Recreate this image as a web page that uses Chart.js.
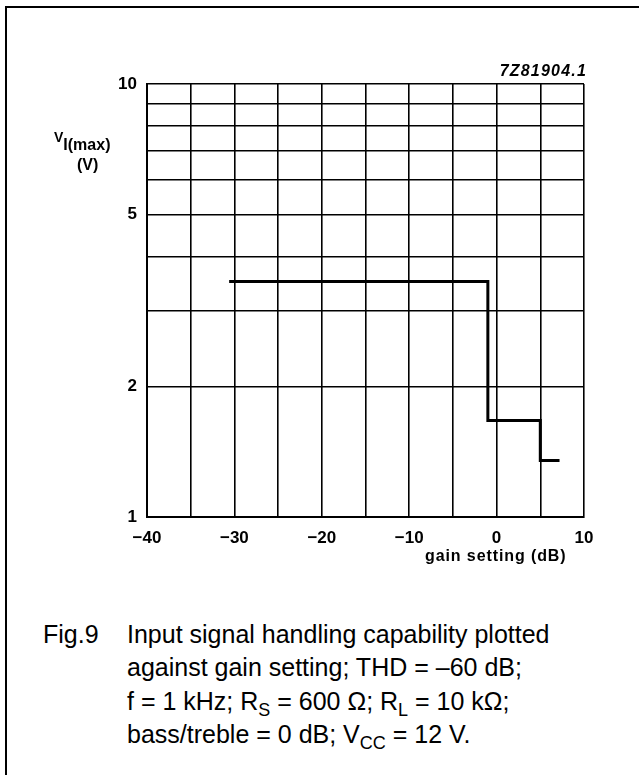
<!DOCTYPE html>
<html>
<head>
<meta charset="utf-8">
<script src="https://cdn.jsdelivr.net/npm/chart.js@4"></script>
<style>
  body { margin: 0; background: #fff; }
  #page { position: relative; width: 639px; height: 775px; overflow: hidden; font-family: "Liberation Sans", Arial, sans-serif; color: #000; }
  #frame { position: absolute; left: 5px; top: 6px; width: 800px; height: 900px; border-left: 2px solid #000; border-top: 2px solid #000; }
  #grafico { position: absolute; left: 0; top: 0; }
  .lbl { position: absolute; font-weight: bold; white-space: nowrap; line-height: 1; }
  #code { right: 52px; top: 63px; font-size: 16px; font-style: italic; letter-spacing: 1.2px; }
  #xtitle { left: 425px; top: 548px; font-size: 16px; letter-spacing: 0.9px; }
  #ylab1 { left: 54px; top: 129px; font-size: 14px; }
  #ylab1 span { font-size: 16px; position: relative; top: 8px; }
  #ylab2 { left: 77px; top: 157px; font-size: 16px; }
  #caption { position: absolute; left: 0; top: 618px; font-size: 25px; line-height: 33.3px; }
  #fig { position: absolute; left: 43px; top: 0; }
  #texto { position: absolute; left: 127px; top: 0; white-space: nowrap; }
  sub { font-size: 18px; line-height: 0; vertical-align: baseline; position: relative; top: 6px; }
</style>
</head>
<body>
<div id="page">
  <div id="frame"></div>
  <canvas id="grafico" width="639" height="600"></canvas>
  <div class="lbl" id="code">7Z81904.1</div>
  <div class="lbl" id="ylab1">V<span>I(max)</span></div>
  <div class="lbl" id="ylab2">(V)</div>
  <div class="lbl" id="xtitle">gain setting (dB)</div>
  <div id="caption">
    <div id="fig">Fig.9</div>
    <div id="texto">Input signal handling capability plotted<br>
      against gain setting; THD = –60 dB;<br>
      f = 1 kHz; R<sub>S</sub> = 600 Ω; R<sub>L</sub> = 10 kΩ;<br>
      bass/treble = 0 dB; V<sub>CC</sub> = 12 V.</div>
  </div>
</div>
<script>
// valores (escalón: cada nivel va hasta el siguiente punto)
const gananciaDb = [-30.6, -1, 5, 7.2];
const vMax = [3.5, 1.67, 1.35, 1.35];

// rejilla y etiquetas
const xGrid = [-40, -35, -30, -25, -20, -15, -10, -5, 0, 5, 10];
const xLabels = [-40, -30, -20, -10, 0, 10];
const yGrid = [1, 2, 3, 4, 5, 6, 7, 8, 9, 10];
const yLabels = [1, 2, 5, 10];

const fuenteTicks = { family: "'Liberation Sans', Arial, sans-serif", size: 17, weight: 'bold' };

new Chart(document.getElementById("grafico"), {
  type: "line",
  data: {
    datasets: [{
      data: gananciaDb.map((g, i) => ({ x: g, y: vMax[i] })),
      borderColor: "#000",
      borderWidth: 3,
      pointRadius: 0,
      stepped: "before",
      fill: false
    }]
  },
  options: {
    responsive: false,
    animation: false,
    layout: { padding: { left: 0, top: 84, right: 55, bottom: 0 } },
    plugins: {
      legend: { display: false },
      tooltip: { enabled: false }
    },
    scales: {
      x: {
        type: "linear",
        min: -40,
        max: 10,
        afterBuildTicks: s => { s.ticks = xGrid.map(v => ({ value: v })); },
        afterFit: s => { s.height = 83; },
        grid: { color: "#000", lineWidth: 1.6, drawTicks: false },
        border: { color: "#000", width: 2 },
        ticks: {
          padding: 11,
          color: "#000",
          font: fuenteTicks,
          maxRotation: 0,
          autoSkip: false,
          callback: v => xLabels.includes(v) ? (v < 0 ? "−" + Math.abs(v) : String(v)) : ""
        }
      },
      y: {
        type: "logarithmic",
        min: 1,
        max: 10,
        afterBuildTicks: s => { s.ticks = yGrid.map(v => ({ value: v })); },
        afterFit: s => { s.width = 147; },
        grid: { color: "#000", lineWidth: 1.6, drawTicks: false },
        border: { color: "#000", width: 2 },
        ticks: {
          padding: 10,
          color: "#000",
          font: fuenteTicks,
          autoSkip: false,
          callback: v => yLabels.includes(v) ? String(v) : ""
        }
      }
    }
  }
});
</script>
</body>
</html>
